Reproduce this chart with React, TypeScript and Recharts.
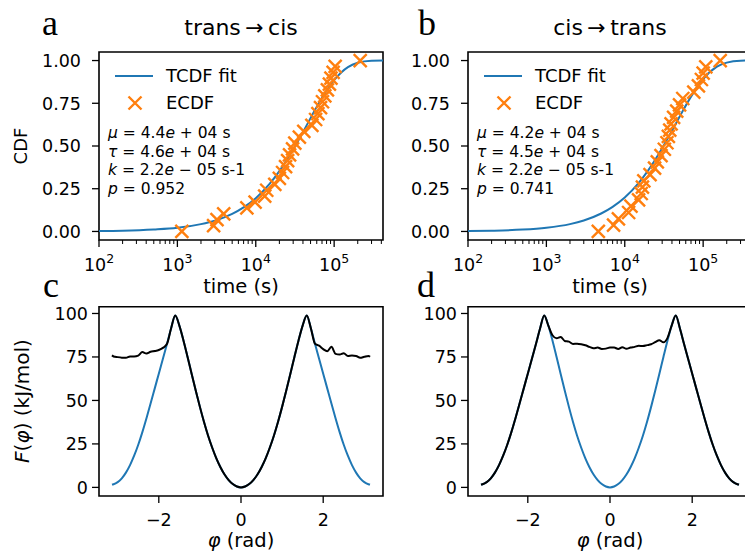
import React from 'react';
import { ComposedChart, Line, Scatter, XAxis, YAxis, ReferenceArea } from 'recharts';

const FONT = '"DejaVu Sans", sans-serif';
const SERIF = '"Liberation Serif", "DejaVu Serif", serif';
const BLUE = '#1f77b4';
const ORANGE = '#ff7f0e';

// TCDF fit curves
const fitTimes = [100, 200, 500, 1e3, 2e3, 3e3, 5e3, 7e3, 1e4, 1.5e4, 2e4, 3e4, 4e4, 5e4, 7e4, 1e5, 1.5e5, 2e5, 3e5, 4.2e5];
const fitTransCis = [0.002, 0.004, 0.011, 0.021, 0.043, 0.063, 0.103, 0.141, 0.195, 0.278, 0.353, 0.479, 0.581, 0.663, 0.782, 0.886, 0.962, 0.987, 0.999, 1.0];
const fitCisTrans = [0.002, 0.0044, 0.011, 0.022, 0.043, 0.064, 0.105, 0.144, 0.199, 0.283, 0.359, 0.487, 0.589, 0.671, 0.789, 0.892, 0.964, 0.988, 0.999, 1.0];

// ECDF points
const ecdfTransCisTime = [1140, 2900, 3200, 3900, 7700, 9800, 13000, 13800, 17500, 20000, 22000, 24000, 25500, 27000, 29500, 31500, 36000, 41000, 52000, 58000, 62000, 67000, 71000, 76000, 82000, 87000, 91000, 97000, 103000, 215000];
const ecdfTransCis = [0, 0.0345, 0.069, 0.103, 0.138, 0.172, 0.207, 0.241, 0.276, 0.31, 0.345, 0.379, 0.414, 0.448, 0.483, 0.517, 0.552, 0.586, 0.621, 0.655, 0.69, 0.724, 0.759, 0.793, 0.828, 0.862, 0.897, 0.931, 0.966, 1.0];
const ecdfCisTransTime = [4600, 7200, 8300, 11200, 12000, 15000, 16200, 16800, 17500, 21000, 24000, 26000, 29000, 32000, 34500, 36000, 37500, 39000, 42000, 46000, 50000, 55000, 76000, 87000, 95000, 100000, 108000, 165000];
const ecdfCisTrans = [0, 0.037, 0.074, 0.111, 0.148, 0.185, 0.222, 0.259, 0.296, 0.333, 0.37, 0.407, 0.444, 0.481, 0.519, 0.556, 0.593, 0.63, 0.667, 0.704, 0.741, 0.778, 0.815, 0.852, 0.889, 0.926, 0.963, 1.0];

// free energy profiles
const phi = [
  -3.14, -3.1, -3.0, -2.9, -2.8, -2.7, -2.6, -2.5, -2.4, -2.3, -2.2, -2.1, -2.0, -1.9, -1.8, -1.7, -1.6,
  -1.5, -1.4, -1.3, -1.2, -1.1, -1.0, -0.9, -0.8, -0.7, -0.6, -0.5, -0.4, -0.3, -0.2, -0.1, 0,
  0.1, 0.2, 0.3, 0.4, 0.5, 0.6, 0.7, 0.8, 0.9, 1.0, 1.1, 1.2, 1.3, 1.4, 1.5,
  1.6, 1.7, 1.8, 1.9, 2.0, 2.1, 2.2, 2.3, 2.4, 2.5, 2.6, 2.7, 2.8, 2.9, 3.0, 3.1, 3.14,
];
const freeEnergy = [
  1.6, 1.8, 3.0, 5.2, 8.5, 12.8, 18.2, 24.5, 31.8, 39.8, 48.2, 56.8, 65.4, 74.0, 82.6, 91.5, 98.8,
  93, 84.5, 75, 65.2, 55.6, 46.3, 37.6, 29.7, 22.8, 16.7, 11.6, 7.4, 4.2, 1.9, 0.5, 0,
  0.5, 1.9, 4.2, 7.4, 11.6, 16.7, 22.8, 29.7, 37.6, 46.3, 55.6, 65.2, 75, 84.5, 93,
  98.8, 91.5, 82.6, 74.0, 65.4, 56.8, 48.2, 39.8, 31.8, 24.5, 18.2, 12.8, 8.5, 5.2, 3.0, 1.8, 1.6,
];
const freeTransCis = [
  75.9, 75.3, 74.9, 74.6, 74.5, 75.3, 75.3, 75.8, 77.8, 77.0, 78.0, 78.4, 79.0, 80.2, 82.6, 91.5, 98.8,
  93, 84.5, 75, 65.2, 55.6, 46.3, 37.6, 29.7, 22.8, 16.7, 11.6, 7.4, 4.2, 1.9, 0.5, 0,
  0.5, 1.9, 4.2, 7.4, 11.6, 16.7, 22.8, 29.7, 37.6, 46.3, 55.6, 65.2, 75, 84.5, 93,
  98.8, 91.5, 82.6, 81.5, 79.5, 78.3, 80.8, 76.8, 76.4, 77.2, 75.5, 75.8, 75.6, 74.5, 75.1, 75.6, 75.1,
];
const freeCisTrans = [
  1.6, 1.8, 3.0, 5.2, 8.5, 12.8, 18.2, 24.5, 31.8, 39.8, 48.2, 56.8, 65.4, 74.0, 82.6, 91.5, 98.8,
  93, 87.5, 85.8, 86.5, 84.2, 83.8, 82.5, 82.6, 82.3, 81.7, 80.8, 80.0, 80.4, 79.6, 79.8, 80.4,
  80.4, 79.6, 80.6, 79.7, 80.4, 80.8, 81.4, 81.3, 81.8, 82.3, 83.5, 84.6, 83.4, 86.0, 93,
  98.8, 91.5, 82.6, 74.0, 65.4, 56.8, 48.2, 39.8, 31.8, 24.5, 18.2, 12.8, 8.5, 5.2, 3.0, 1.8, 1.6,
];

const timeTicks = [
  100, 200, 300, 400, 500, 600, 700, 800, 900,
  1000, 2000, 3000, 4000, 5000, 6000, 7000, 8000, 9000,
  10000, 20000, 30000, 40000, 50000, 60000, 70000, 80000, 90000,
  100000, 200000, 300000, 400000,
];
const cdfTicks = [0, 0.25, 0.5, 0.75, 1];
const phiTicks = [-2, 0, 2];
const energyTicks = [0, 25, 50, 75, 100];

const timeDomain = [100, 420000];
const cdfDomain = [-0.05, 1.05];
const phiDomain = [-3.455, 3.455];
const energyDomain = [-4.95, 103.9];

const TICK_FS = 17.5;

function LogTick(props: any) {
  const { x, y, payload } = props;
  const lg = Math.log10(payload.value);
  const exp = Math.round(lg);
  const major = Math.abs(lg - exp) < 1e-6;
  return (
    <g>
      <line x1={x} x2={x} y1={y} y2={y + (major ? 7 : 4)} stroke="#000" strokeWidth={major ? 1.3 : 1} />
      {major && (
        <text x={x} y={y + 31} textAnchor="middle" fontSize={TICK_FS} fontFamily={FONT} fill="#000">
          10<tspan dy={-8} fontSize={12.5}>{exp}</tspan>
        </text>
      )}
    </g>
  );
}

function PhiTick(props: any) {
  const { x, y, payload } = props;
  const v = payload.value;
  return (
    <g>
      <line x1={x} x2={x} y1={y} y2={y + 7} stroke="#000" strokeWidth={1.3} />
      <text x={x} y={y + 30} textAnchor="middle" fontSize={TICK_FS} fontFamily={FONT} fill="#000">
        {v < 0 ? `\u2212${Math.abs(v)}` : `${v}`}
      </text>
    </g>
  );
}

function makeYTick(fmt: (v: number) => string, gap: number) {
  return (props: any) => {
    const { x, y, payload } = props;
    return (
      <g>
        <line x1={x - 7} x2={x} y1={y} y2={y} stroke="#000" strokeWidth={1.3} />
        <text x={x - 7 - gap} y={y} dy="0.36em" textAnchor="end" fontSize={TICK_FS} fontFamily={FONT} fill="#000">
          {fmt(payload.value)}
        </text>
      </g>
    );
  };
}

const CdfTick = makeYTick((v) => v.toFixed(2), 11);
const EnergyTick = makeYTick((v) => `${v}`, 4);

function Cross(props: any) {
  const { cx, cy } = props;
  const s = 6.5;
  return (
    <path
      d={`M${cx - s},${cy - s}L${cx + s},${cy + s}M${cx - s},${cy + s}L${cx + s},${cy - s}`}
      stroke={ORANGE}
      strokeWidth={2.4}
      fill="none"
    />
  );
}

function CdfPanel({ left, fit, times, ecdf }: { left: number; fit: number[]; times: number[]; ecdf: number[] }) {
  const fitRows = fitTimes.map((t, i) => ({ t, cdf: fit[i] }));
  const pts = times.map((t, i) => ({ t, cdf: ecdf[i] }));
  return (
    <div style={{ position: 'absolute', left, top: 0 }}>
      <ComposedChart width={390} height={300} data={fitRows} margin={{ top: 52, right: 7, bottom: 20, left: 39 }}>
        <XAxis
          dataKey="t"
          type="number"
          scale="log"
          domain={timeDomain}
          allowDataOverflow
          ticks={timeTicks}
          interval={0}
          height={40}
          axisLine={false}
          tickLine={false}
          tickSize={0}
          tickMargin={0}
          tick={LogTick}
        />
        <YAxis
          dataKey="cdf"
          type="number"
          domain={cdfDomain}
          allowDataOverflow
          ticks={cdfTicks}
          interval={0}
          width={60}
          axisLine={false}
          tickLine={false}
          tickSize={0}
          tickMargin={0}
          tick={CdfTick}
        />
        <ReferenceArea
          x1={timeDomain[0]}
          x2={timeDomain[1]}
          y1={cdfDomain[0]}
          y2={cdfDomain[1]}
          fill="none"
          fillOpacity={0}
          stroke="#000"
          strokeWidth={1.6}
          ifOverflow="visible"
        />
        <Line type="monotone" dataKey="cdf" stroke={BLUE} strokeWidth={2} dot={false} isAnimationActive={false} />
        <Scatter data={pts} dataKey="cdf" shape={Cross} isAnimationActive={false} />
      </ComposedChart>
    </div>
  );
}

function EnergyPanel({ left, path }: { left: number; path: number[] }) {
  const rows = phi.map((p, i) => ({ phi: p, base: freeEnergy[i], path: path[i] }));
  return (
    <div style={{ position: 'absolute', left, top: 270 }}>
      <ComposedChart width={390} height={282} data={rows} margin={{ top: 36.7, right: 7, bottom: 16, left: 39 }}>
        <XAxis
          dataKey="phi"
          type="number"
          domain={phiDomain}
          allowDataOverflow
          ticks={phiTicks}
          interval={0}
          height={40}
          axisLine={false}
          tickLine={false}
          tickSize={0}
          tickMargin={0}
          tick={PhiTick}
        />
        <YAxis
          type="number"
          domain={energyDomain}
          allowDataOverflow
          ticks={energyTicks}
          interval={0}
          width={60}
          axisLine={false}
          tickLine={false}
          tickSize={0}
          tickMargin={0}
          tick={EnergyTick}
        />
        <ReferenceArea
          x1={phiDomain[0]}
          x2={phiDomain[1]}
          y1={energyDomain[0]}
          y2={energyDomain[1]}
          fill="none"
          fillOpacity={0}
          stroke="#000"
          strokeWidth={1.6}
          ifOverflow="visible"
        />
        <Line type="monotone" dataKey="base" stroke={BLUE} strokeWidth={2} dot={false} isAnimationActive={false} />
        <Line type="monotone" dataKey="path" stroke="#000" strokeWidth={2} dot={false} isAnimationActive={false} />
      </ComposedChart>
    </div>
  );
}

function LegendBlock({ x }: { x: number }) {
  const s = 6.5;
  const mx = x + 20;
  return (
    <g fontFamily={FONT} fontSize={18}>
      <line x1={x} x2={x + 38} y1={76} y2={76} stroke={BLUE} strokeWidth={2} />
      <text x={x + 51} y={82}>TCDF fit</text>
      <path d={`M${mx - s},${103 - s}L${mx + s},${103 + s}M${mx - s},${103 + s}L${mx + s},${103 - s}`} stroke={ORANGE} strokeWidth={2.4} />
      <text x={x + 51} y={109}>ECDF</text>
    </g>
  );
}

function ParamBlock({ x, mu, tau, k, p }: { x: number; mu: string; tau: string; k: string; p: string }) {
  const it = { fontStyle: 'italic' as const };
  return (
    <g fontFamily={FONT} fontSize={15.5} style={{ whiteSpace: 'pre' }}>
      <text x={x} y={138}>
        <tspan {...it}>μ</tspan>{` = ${mu}`}<tspan {...it}>e</tspan>{' + 04 s'}
      </text>
      <text x={x} y={156.7}>
        <tspan {...it}>τ</tspan>{` = ${tau}`}<tspan {...it}>e</tspan>{' + 04 s'}
      </text>
      <text x={x} y={175.3}>
        <tspan {...it}>k</tspan>{` = ${k}`}<tspan {...it}>e</tspan>{' \u2212 05 s-1'}
      </text>
      <text x={x} y={194}>
        <tspan {...it}>p</tspan>{` = ${p}`}
      </text>
    </g>
  );
}

export default function App() {
  return (
    <div style={{ position: 'fixed', left: 0, top: 0, width: 745, height: 552, overflow: 'hidden', background: '#fff' }}>
      <CdfPanel left={0} fit={fitTransCis} times={ecdfTransCisTime} ecdf={ecdfTransCis} />
      <CdfPanel left={369} fit={fitCisTrans} times={ecdfCisTransTime} ecdf={ecdfCisTrans} />
      <EnergyPanel left={0} path={freeTransCis} />
      <EnergyPanel left={369} path={freeCisTrans} />
      <svg width={745} height={552} style={{ position: 'absolute', left: 0, top: 0, pointerEvents: 'none' }}>
        <g fontFamily={SERIF} fontSize={36}>
          <text x={42} y={35}>a</text>
          <text x={418} y={35}>b</text>
          <text x={43} y={297}>c</text>
          <text x={417} y={297}>d</text>
        </g>
        <g fontFamily={FONT} fontSize={22} textAnchor="middle">
          <text x={241} y={35}>{'trans\u2009\u2192\u2009cis'}</text>
          <text x={610} y={35}>{'cis\u2009\u2192\u2009trans'}</text>
        </g>
        <g fontFamily={FONT} fontSize={19.5} textAnchor="middle">
          <text x={241} y={293}>time (s)</text>
          <text x={610} y={293}>time (s)</text>
          <text x={241} y={547}><tspan fontStyle="italic">φ</tspan> (rad)</text>
          <text x={610} y={547}><tspan fontStyle="italic">φ</tspan> (rad)</text>
          <text transform="translate(27,146) rotate(-90)" fontSize={18}>CDF</text>
          <text transform="translate(29,401) rotate(-90)" fontSize={20}>
            <tspan fontStyle="italic">F</tspan>(<tspan fontStyle="italic">φ</tspan>) (kJ/mol)
          </text>
        </g>
        <LegendBlock x={115} />
        <LegendBlock x={484} />
        <ParamBlock x={108} mu="4.4" tau="4.6" k="2.2" p="0.952" />
        <ParamBlock x={477} mu="4.2" tau="4.5" k="2.2" p="0.741" />
      </svg>
    </div>
  );
}
